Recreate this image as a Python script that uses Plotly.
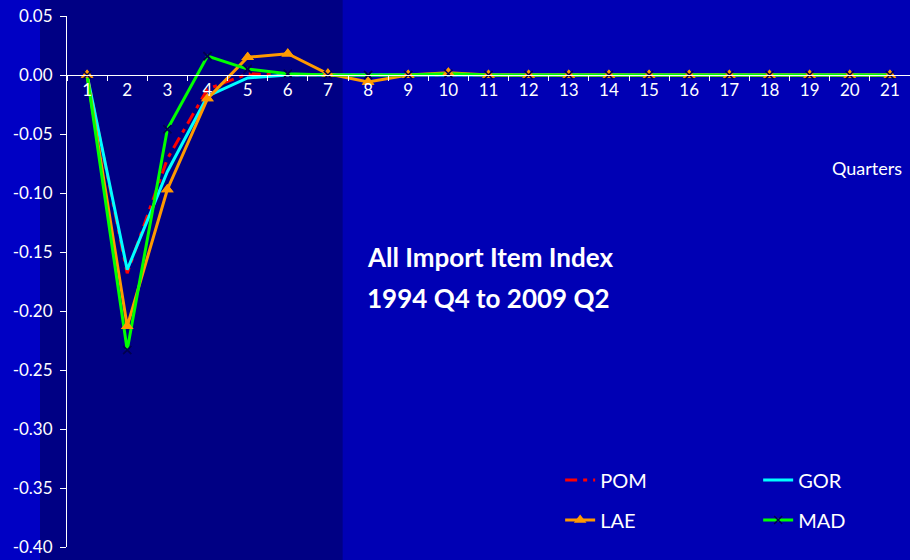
import plotly.graph_objects as go

# Quarters after the shock
quarters = [str(q) for q in range(1, 22)]

# Impulse responses by method
pom = [0.0, -0.168, -0.071, -0.012, 0.001, 0.0, 0.0, 0.0, 0.0, 0.0, 0.0,
       0.0, 0.0, 0.0, 0.0, 0.0, 0.0, 0.0, 0.0, 0.0, 0.0]
gor = [0.0, -0.165, -0.082, -0.018, -0.0025, 0.0, 0.0, 0.0, 0.0, 0.0, 0.0,
       0.0, 0.0, 0.0, 0.0, 0.0, 0.0, 0.0, 0.0, 0.0, 0.0]
lae = [0.0, -0.213, -0.097, -0.020, 0.015, 0.018, 0.001, -0.006, 0.0, 0.002, 0.0,
       0.0, 0.0, 0.0, 0.0, 0.0, 0.0, 0.0, 0.0, 0.0, 0.0]
mad = [0.0, -0.233, -0.046, 0.016, 0.005, 0.001, 0.0, 0.0, 0.0, 0.001, 0.0,
       0.0, 0.0, 0.0, 0.0, 0.0, 0.0, 0.0, 0.0, 0.0, 0.0]

y_ticks = [0.05, 0.0, -0.05, -0.10, -0.15, -0.20, -0.25, -0.30, -0.35, -0.40]
y_tick_text = ["0.05", "0.00", "-0.05", "-0.10", "-0.15", "-0.20", "-0.25",
               "-0.30", "-0.35", "-0.40"]

FONT = "Lato, 'Open Sans', sans-serif"
RED = "#ff0000"
CYAN = "#00ffff"
ORANGE = "#ff9900"
GREEN = "#00ff00"
NAVY = "#000050"

fig = go.Figure()

# Lines first
fig.add_trace(go.Scatter(x=quarters, y=pom, name="POM", mode="lines",
                         line=dict(color=RED, width=3, dash="12px,6px,4px,6px"),
                         legend="legend"))
fig.add_trace(go.Scatter(x=quarters, y=gor, name="GOR", mode="lines",
                         line=dict(color=CYAN, width=3), legend="legend"))
fig.add_trace(go.Scatter(x=quarters, y=lae, name="LAE", mode="lines+markers",
                         line=dict(color=ORANGE, width=3),
                         marker=dict(symbol="triangle-up", size=11, color=ORANGE),
                         legend="legend2"))
fig.add_trace(go.Scatter(x=quarters, y=mad, name="MAD", mode="lines+markers",
                         line=dict(color=GREEN, width=3),
                         marker=dict(symbol="x-thin", size=8,
                                     line=dict(color=NAVY, width=1.5)),
                         legend="legend2"))
# Markers drawn above all lines
fig.add_trace(go.Scatter(x=quarters, y=lae, mode="markers", showlegend=False,
                         marker=dict(symbol="triangle-up", size=11, color=ORANGE),
                         hoverinfo="skip"))
fig.add_trace(go.Scatter(x=quarters, y=mad, mode="markers", showlegend=False,
                         marker=dict(symbol="x-thin", size=8,
                                     line=dict(color=NAVY, width=1.5)),
                         hoverinfo="skip"))

y_lo, y_hi = -0.40, 0.05
zero_pos = (0 - y_lo) / (y_hi - y_lo)

# Background panels
shapes = [
    dict(type="rect", xref="paper", yref="paper", x0=-0.09, x1=1.01, y0=-0.04, y1=1.04,
         fillcolor="#0000b4", line=dict(width=0), layer="below"),
    dict(type="rect", xref="paper", yref="paper", x0=-0.09, x1=-0.032, y0=-0.04, y1=1.04,
         fillcolor="#0000c4", line=dict(width=0), layer="below"),
    dict(type="rect", xref="paper", yref="paper", x0=-0.032, x1=0.327, y0=-0.04, y1=1.04,
         fillcolor="#000084", line=dict(width=0), layer="below"),
]

fig.update_layout(
    width=910, height=560,
    margin=dict(l=67, r=0, t=16, b=13, autoexpand=False),
    paper_bgcolor="#0000b4",
    plot_bgcolor="rgba(0,0,0,0)",
    font=dict(family=FONT, color="white", size=17),
    shapes=shapes,
    showlegend=True,
    legend=dict(orientation="h", x=0.585, y=0.126, xanchor="left", yanchor="middle",
                entrywidth=153, entrywidthmode="pixels",
                bgcolor="rgba(0,0,0,0)", font=dict(size=20, color="white", family=FONT)),
    legend2=dict(orientation="h", x=0.585, y=0.051, xanchor="left", yanchor="middle",
                 entrywidth=153, entrywidthmode="pixels",
                 bgcolor="rgba(0,0,0,0)", font=dict(size=20, color="white", family=FONT)),
    xaxis=dict(type="category", range=[-0.5, 20.5], anchor="free", position=zero_pos,
               showline=True, linecolor="white", linewidth=1,
               ticks="outside", tickson="boundaries", ticklen=5, tickcolor="white",
               showgrid=False, zeroline=False, automargin=False,
               tickfont=dict(size=17, color="white", family=FONT)),
    yaxis=dict(range=[y_lo, y_hi], tickvals=y_ticks, ticktext=y_tick_text,
               showline=True, linecolor="white", linewidth=1,
               ticks="outside", ticklen=6, tickcolor="white", automargin=False,
               showgrid=False, zeroline=False, ticklabelstandoff=4,
               tickfont=dict(size=17, color="white", family=FONT)),
    annotations=[
        dict(text="Quarters", xref="paper", yref="paper", x=(904 - 67) / 843,
             y=(547 - 168) / 531,
             xanchor="right", yanchor="middle", showarrow=False,
             font=dict(size=18, color="white", family=FONT)),
        dict(text="<b>All Import Item Index</b>",
             xref="paper", yref="paper", x=(365 - 67) / 843, y=(547 - 257) / 531,
             xanchor="left", yanchor="middle", align="left", showarrow=False,
             font=dict(size=26, color="white", family=FONT)),
        dict(text="<b>1994 Q4 to 2009 Q2</b>",
             xref="paper", yref="paper", x=(365 - 67) / 843, y=(547 - 298) / 531,
             xanchor="left", yanchor="middle", align="left", showarrow=False,
             font=dict(size=26, color="white", family=FONT)),
    ],
)

fig.write_html("out.html")
